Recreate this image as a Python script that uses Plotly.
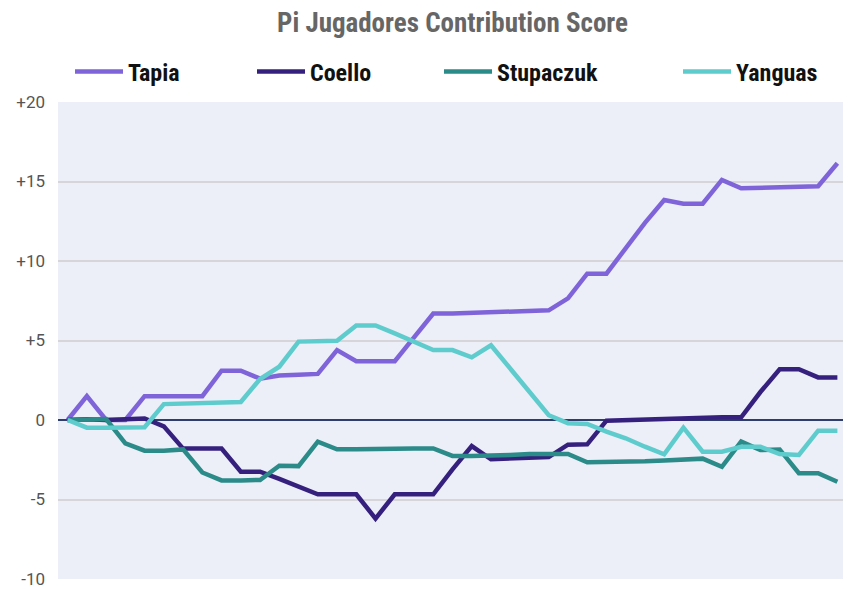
import plotly.graph_objects as go

matches = list(range(41))

tapia = [0, 1.5, 0, 0, 1.5, 1.5, 1.5, 1.5, 3.1, 3.1, 2.6, 2.8, 2.85, 2.9, 4.4, 3.7,
         3.7, 3.7, 5.2, 6.7, 6.7, 6.75, 6.77, 6.8, 6.9, 6.9, 7.65, 9.2, 9.2, 10.8,
         12.4, 13.84, 13.6, 13.6, 15.1, 14.57, 14.6, 14.62, 14.65, 14.7, 16.15]
coello = [0, 0.05, 0, 0.05, 0.1, -0.4, -1.8, -1.8, -1.8, -3.25, -3.25, -3.7, -4.2,
          -4.67, -4.67, -4.67, -6.2, -4.67, -4.67, -4.67, -3.1, -1.64, -2.47, -2.4,
          -2.35, -2.33, -1.55, -1.53, -0.04, 0, 0.04, 0.08, 0.1, 0.14, 0.17, 0.17,
          1.76, 3.19, 3.19, 2.68, 2.68]
stupaczuk = [0, 0.04, 0.06, -1.47, -1.93, -1.93, -1.85, -3.3, -3.8, -3.8, -3.77,
             -2.88, -2.9, -1.36, -1.84, -1.84, -1.8, -1.79, -1.79, -1.79, -2.26,
             -2.26, -2.26, -2.2, -2.14, -2.12, -2.14, -2.66, -2.66, -2.62, -2.6,
             -2.54, -2.45, -2.43, -2.94, -1.36, -1.89, -1.85, -3.35, -3.35, -3.88]
yanguas = [0, -0.48, -0.48, -0.48, -0.46, 1.0, 1.05, 1.1, 1.1, 1.13, 2.58, 3.35,
           4.93, 4.95, 4.99, 5.95, 5.95, 5.45, 4.9, 4.4, 4.4, 3.94, 4.7, 3.2, 1.7,
           0.3, -0.2, -0.25, -0.73, -1.15, -1.68, -2.16, -0.48, -1.99, -1.99, -1.68,
           -1.68, -2.14, -2.2, -0.67, -0.67]

names = ["Tapia", "Coello", "Stupaczuk", "Yanguas"]
values = [tapia, coello, stupaczuk, yanguas]
colors = ["#7F63D9", "#36207D", "#2B8B88", "#5ECCCC"]

y_ticks = [-10, -5, 0, 5, 10, 15, 20]
y_tick_labels = ["-10", "-5", "0", "+5", "+10", "+15", "+20"]

# the page body adds an 8px margin, so the figure is 16px smaller than the window
W, H = 843, 581
COND = "Roboto Condensed, DejaVu Sans Condensed, sans-serif"

# left edge (figure px) of each legend entry
legend_left = [62, 244, 431, 670]
legend_ids = ["legend", "legend2", "legend3", "legend4"]

fig = go.Figure()
for name, vals, color, lid in zip(names, values, colors, legend_ids):
    fig.add_trace(go.Scatter(x=matches, y=vals, name=name, mode="lines",
                             legend=lid, showlegend=True,
                             line=dict(color=color, width=4.5)))

legend_style = dict(orientation="h", xanchor="left", yanchor="middle",
                    xref="container", yref="container", y=1 - 64 / H,
                    font=dict(family=COND, size=24, color="#111111", weight="bold"),
                    itemwidth=48, bgcolor="rgba(0,0,0,0)", borderwidth=0)

layout_legends = {lid: dict(legend_style, x=left / W)
                  for lid, left in zip(legend_ids, legend_left)}

fig.update_layout(
    width=W, height=H,
    showlegend=True,
    margin=dict(l=50, r=4, t=94, b=10, autoexpand=False),
    paper_bgcolor="white",
    plot_bgcolor="#ECEEF8",
    title=dict(text="Pi Jugadores Contribution Score", x=444.5 / W, xanchor="center",
               xref="container", y=1 - 14.5 / H, yanchor="middle", yref="container",
               font=dict(family=COND, size=27, color="#666666", weight="bold")),
    xaxis=dict(range=[-0.5, 40.5], showticklabels=False, showgrid=False,
               zeroline=False, showline=False, ticks=""),
    yaxis=dict(range=[-10, 20], tickvals=y_ticks, ticktext=y_tick_labels,
               showgrid=True, gridcolor="#D6D6DA", gridwidth=1.5,
               zeroline=True, zerolinecolor="#2E3D6B", zerolinewidth=2,
               ticks="", ticklabelstandoff=12,
               tickfont=dict(family="Roboto, sans-serif", size=17, color="#555555")),
    **layout_legends,
)

fig.write_html("out.html")
